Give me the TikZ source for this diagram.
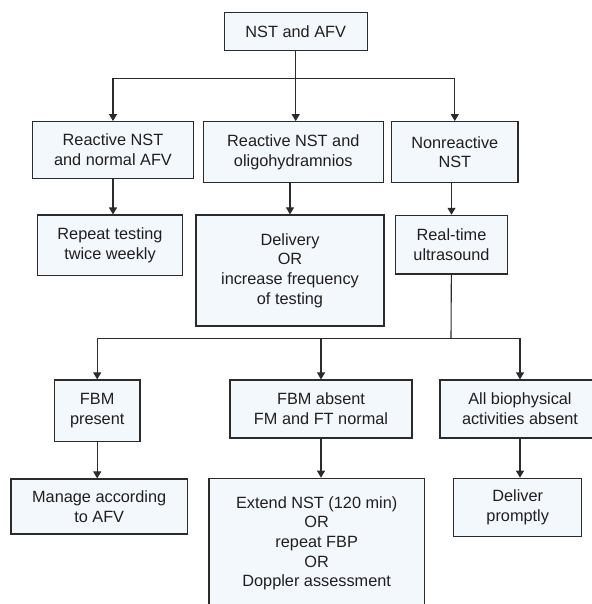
\documentclass[tikz,border=0pt]{standalone}
\usepackage{fontspec}
\setmainfont{Liberation Sans}
\usepackage{tikz}
\usetikzlibrary{arrows.meta, positioning}

\definecolor{boxfill}{HTML}{F3F8FC}
\definecolor{boxline}{HTML}{2B2B2B}

\begin{document}
\begin{tikzpicture}[
  x=1pt, y=-1pt,
  box/.style={draw=boxline, line width=1.2pt, fill=boxfill, align=center, inner sep=0pt, text=black!88, font=\fontsize{16.3}{19.7}\selectfont},
  conn/.style={draw=boxline, line width=1.1pt},
  arr/.style={conn, -{Triangle[length=7pt, width=8pt]}},
]
\useasboundingbox (0,0) rectangle (591,604);

\node[box, minimum width=143pt, minimum height=38pt] (nst) at (295.7, 31.2) {NST and AFV};
\node[box, minimum width=161pt, minimum height=56.6pt] (normal) at (113, 150) {Reactive NST\\and normal AFV};
\node[box, minimum width=180pt, minimum height=61pt] (oligo) at (293.3, 152.2) {Reactive NST and\\oligohydramnios};
\node[box, minimum width=126.3pt, minimum height=61pt] (nonreact) at (454.8, 152.2) {Nonreactive\\NST};
\node[box, minimum width=144.7pt, minimum height=60.3pt] (repeattest) at (110, 245.2) {Repeat testing\\twice weekly};
\node[box, minimum width=188pt, minimum height=111pt] (delivery) at (290, 270.5) {Delivery\\OR\\increase frequency\\of testing};
\node[box, minimum width=111.6pt, minimum height=58.7pt] (realtime) at (451.5, 244.7) {Real-time\\ultrasound};
\node[box, minimum width=85.7pt, minimum height=61.7pt] (fbmpres) at (97.2, 410.8) {FBM\\present};
\node[box, minimum width=182pt, minimum height=58pt] (fbmabs) at (321, 409) {FBM absent\\FM and FT normal};
\node[box, minimum width=160pt, minimum height=58pt] (allbio) at (520, 409) {All biophysical\\activities absent};
\node[box, minimum width=176.3pt, minimum height=55pt] (manage) at (99.2, 506.5) {Manage according\\to AFV};
\node[box, minimum width=215.3pt, minimum height=130pt] (extend) at (316.7, 543.3) {Extend NST (120 min)\\OR\\repeat FBP\\OR\\Doppler assessment};
\node[box, minimum width=128pt, minimum height=58.4pt] (deliver) at (517.7, 507.5) {Deliver\\promptly};

% first split
\coordinate (splitA) at (295.7, 78.7);
\draw[conn] (nst) -- (splitA);
\draw[arr] (splitA) -| (normal);
\draw[arr] (splitA) -- (splitA |- oligo.north);
\draw[arr] (splitA) -| (nonreact);

\draw[arr] (normal.south) -- (normal.south |- repeattest.north);
\draw[arr] (delivery.north |- oligo.south) -- (delivery.north);
\draw[arr] (realtime.north |- nonreact.south) -- (realtime.north);

% second split
\coordinate (splitB) at (451, 338.3);
\draw[conn] (realtime) -- (splitB);
\draw[arr] (splitB) -| (fbmpres);
\draw[arr] (splitB) -| (fbmabs);
\draw[arr] (splitB) -| (allbio);

\draw[arr] (fbmpres.south) -- (fbmpres.south |- manage.north);
\draw[arr] (fbmabs.south) -- (fbmabs.south |- extend.north);
\draw[arr] (allbio.south) -- (allbio.south |- deliver.north);

\end{tikzpicture}
\end{document}
